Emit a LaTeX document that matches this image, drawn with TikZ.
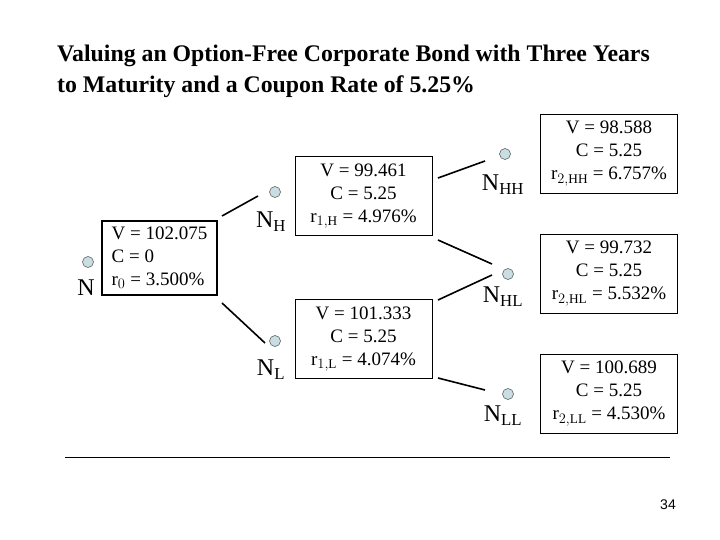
\documentclass[tikz,border=0pt]{standalone}
\usepackage{fontspec}
\setmainfont{Liberation Serif}
\setsansfont{Liberation Sans}
\definecolor{dotfill}{RGB}{200,222,226}
\begin{document}
\begin{tikzpicture}[x=1pt,y=-1pt,
  box/.style={draw,line width=0.8pt,inner sep=2pt,align=center,font=\fontsize{19}{23}\selectfont,minimum width=137,minimum height=79},
  dot/.style={circle,draw=black!70,fill=dotfill,line width=0.5pt,minimum size=11,inner sep=0},
  lab/.style={font=\fontsize{24}{24}\selectfont,inner sep=0},
  con/.style={line width=1.6pt}]
\useasboundingbox (0,0) rectangle (720,540);
\node[anchor=north west,align=left,font=\bfseries\fontsize{23.8}{31}\selectfont,inner sep=0] (title) at (57,45)
 {Valuing an Option-Free Corporate Bond with Three Years\\to Maturity and a Coupon Rate of 5.25\%};
% boxes
\node[box,line width=2pt,minimum width=115,minimum height=74,align=left,inner sep=4pt] (bN) at (159.5,258) {V = 102.075\\C = 0\\r$_0$ = 3.500\%};
\node[box] (bNH) at (363.5,196) {V = 99.461\\C = 5.25\\r$_{1,\mathrm{H}}$ = 4.976\%};
\node[box] (bNL) at (363.5,339) {V = 101.333\\C = 5.25\\r$_{1,\mathrm{L}}$ = 4.074\%};
\node[box] (bHH) at (609,153.5) {V = 98.588\\C = 5.25\\r$_{2,\mathrm{HH}}$ = 6.757\%};
\node[box] (bHL) at (609,273.5) {V = 99.732\\C = 5.25\\r$_{2,\mathrm{HL}}$ = 5.532\%};
\node[box] (bLL) at (609,393.5) {V = 100.689\\C = 5.25\\r$_{2,\mathrm{LL}}$ = 4.530\%};
% dots and labels
\node[dot] (dN) at (88,262) {};
\node[lab] (lN) at (86,288) {N};
\node[dot] (dNH) at (275,192) {};
\node[lab] (lNH) at (271,222) {N$_{\mathrm{H}}$};
\node[dot] (dNL) at (275,341) {};
\node[lab] (lNL) at (271,370) {N$_{\mathrm{L}}$};
\node[dot] (dHH) at (505,154) {};
\node[lab] (lHH) at (503,185) {N$_{\mathrm{HH}}$};
\node[dot] (dHL) at (508,274) {};
\node[lab] (lHL) at (503,297) {N$_{\mathrm{HL}}$};
\node[dot] (dLL) at (508,394) {};
\node[lab] (lLL) at (503,416) {N$_{\mathrm{LL}}$};
% connector ends
\coordinate (a1) at (222,216); \coordinate (a2) at (258,196);
\coordinate (b1) at (222,303); \coordinate (b2) at (265,343);
\coordinate (c1) at (438,178); \coordinate (c2) at (485,161);
\coordinate (d1) at (438,240); \coordinate (d2) at (492,264);
\coordinate (e1) at (438,300); \coordinate (e2) at (492,275);
\coordinate (f1) at (438,378); \coordinate (f2) at (485,390);
\draw[con] (a1)--(a2); \draw[con] (b1)--(b2);
\draw[con] (c1)--(c2); \draw[con] (d1)--(d2);
\draw[con] (e1)--(e2); \draw[con] (f1)--(f2);
\coordinate (r1) at (65,457); \coordinate (r2) at (670,457);
\draw[line width=0.8pt] (r1)--(r2);
\node[font=\sffamily\fontsize{14}{14}\selectfont] (pg) at (668,505) {34};
\end{tikzpicture}
\end{document}
